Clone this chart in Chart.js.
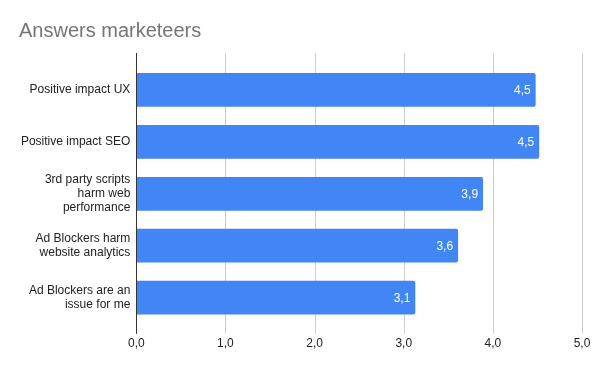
<!DOCTYPE html>
<html>
<head>
<meta charset="utf-8">
<script src="https://cdn.jsdelivr.net/npm/chart.js@4"></script>
<style>
  html, body { margin: 0; padding: 0; background: #fff; }
  #wrap { width: 600px; height: 371px; }
</style>
</head>
<body>
<div id="wrap"><canvas id="answers"></canvas></div>
<script>
// Data
const categories = [
  "Positive impact UX",
  "Positive impact SEO",
  ["3rd party scripts", "harm web", "performance"],
  ["Ad Blockers harm", "website analytics"],
  ["Ad Blockers are an", "issue for me"]
];
const scores = [4.48, 4.52, 3.89, 3.61, 3.13];
const tickValues = [0, 1, 2, 3, 4, 5];

const fmt = v => Number(v).toFixed(1).replace(".", ",");
const FONT = "Arial, 'Liberation Sans', sans-serif";

// vertical grid lines, a bit taller than the bar area like the original
const gridPlugin = {
  id: "grid",
  beforeDatasetsDraw(chart) {
    const ctx = chart.ctx;
    const x = chart.scales.x;
    const area = chart.chartArea;
    ctx.save();
    tickValues.forEach(v => {
      const px = Math.round(x.getPixelForValue(v)) + 0.5;
      ctx.strokeStyle = v === 0 ? "#333333" : "#cccccc";
      ctx.lineWidth = 1;
      ctx.beginPath();
      ctx.moveTo(px, area.top - 11);
      ctx.lineTo(px, area.bottom + 10);
      ctx.stroke();
    });
    ctx.restore();
  },
  afterDatasetsDraw(chart) {
    // redraw the zero line over the bars
    const ctx = chart.ctx;
    const px = Math.round(chart.scales.x.getPixelForValue(0)) + 0.5;
    ctx.save();
    ctx.strokeStyle = "#333333";
    ctx.beginPath();
    ctx.moveTo(px, chart.chartArea.top - 11);
    ctx.lineTo(px, chart.chartArea.bottom + 10);
    ctx.stroke();
    ctx.restore();
  }
};

// value labels inside the bar ends
const valueLabels = {
  id: "valueLabels",
  afterDatasetsDraw(chart) {
    const ctx = chart.ctx;
    const meta = chart.getDatasetMeta(0);
    ctx.save();
    ctx.font = "12px " + FONT;
    ctx.fillStyle = "#ffffff";
    ctx.textAlign = "right";
    ctx.textBaseline = "middle";
    meta.data.forEach((bar, i) => {
      ctx.fillText(fmt(scores[i]), bar.x - 5, bar.y + 1);
    });
    ctx.restore();
  }
};

new Chart(document.getElementById("answers"), {
  type: "bar",
  data: {
    labels: categories,
    datasets: [
      {
        label: "Answers",
        data: scores,
        backgroundColor: "#4285F4",
        borderRadius: 2,
        categoryPercentage: 0.65,
        barPercentage: 1.0,
      },
    ],
  },
  options: {
    indexAxis: "y",
    responsive: true,
    maintainAspectRatio: false,
    animation: false,
    layout: {
      padding: { left: 19, right: 18, top: 0, bottom: 7 },
    },
    scales: {
      x: {
        min: 0,
        max: 5,
        afterBuildTicks: (scale) => {
          scale.ticks = tickValues.map(v => ({ value: v }));
        },
        afterFit: (scale) => {
          scale.paddingLeft = 0;
          scale.paddingRight = 0;
        },
        grid: { display: false, drawTicks: false },
        border: { display: false },
        ticks: {
          padding: 13,
          color: "#222222",
          font: { family: FONT, size: 12 },
          maxRotation: 0,
          callback: (v) => fmt(v),
        },
      },
      y: {
        grid: { display: false, drawTicks: false },
        border: { display: false },
        afterFit: (scale) => {
          scale.width = 117.3;
        },
        ticks: {
          padding: 6,
          color: "#222222",
          font: { family: FONT, size: 12, lineHeight: 1.15 },
        },
      },
    },
    plugins: {
      legend: { display: false },
      tooltip: { enabled: false },
      title: {
        display: true,
        text: "Answers marketeers",
        align: "start",
        color: "#757575",
        font: { family: FONT, size: 20, weight: "normal" },
        padding: { top: 19, bottom: 21 },
      },
    },
  },
  plugins: [gridPlugin, valueLabels],
});
</script>
</body>
</html>
